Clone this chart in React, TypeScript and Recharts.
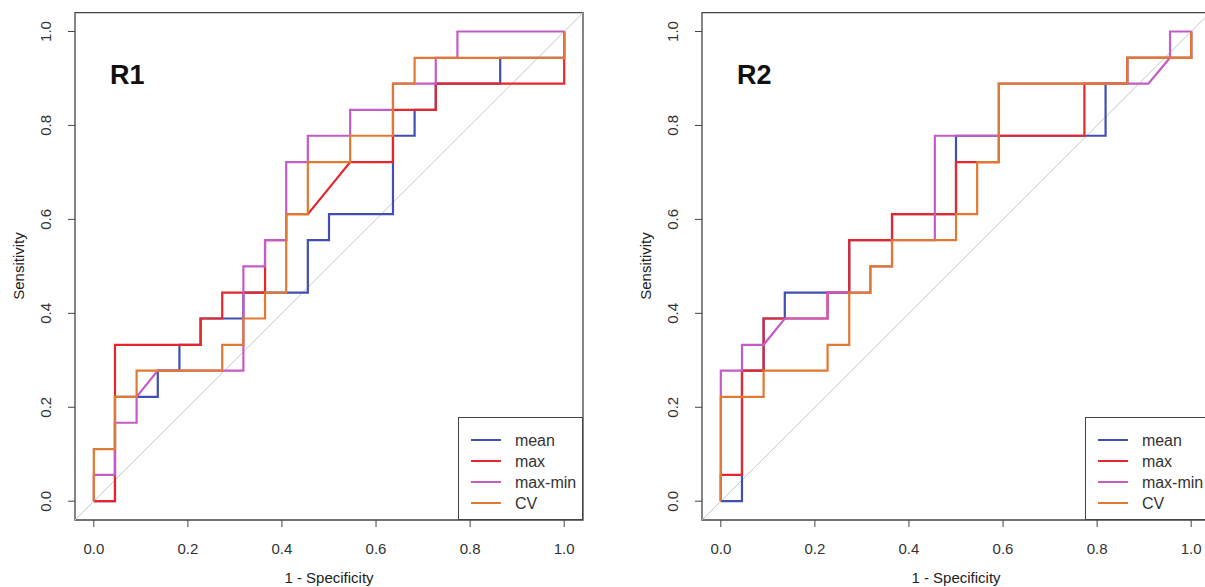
import React from 'react';
import {
  ScatterChart,
  Scatter,
  XAxis,
  YAxis,
  ReferenceLine,
  ReferenceArea,
} from 'recharts';

// axis ticks
const axisTicks = [0, 0.2, 0.4, 0.6, 0.8, 1.0];

// series names / colours
const seriesNames = ['mean', 'max', 'max-min', 'CV'];
const seriesColors = ['#3f50b0', '#e6262c', '#c45cc6', '#e07a32'];

// ---- R1 ----
const r1MeanX = [0, 0.045, 0.045, 0.136, 0.136, 0.182, 0.182, 0.227, 0.227, 0.318, 0.318, 0.455, 0.455, 0.5, 0.5, 0.636, 0.636, 0.682, 0.682, 0.727, 0.727, 0.864, 0.864, 1, 1];
const r1MeanY = [0, 0, 0.222, 0.222, 0.278, 0.278, 0.333, 0.333, 0.389, 0.389, 0.444, 0.444, 0.556, 0.556, 0.611, 0.611, 0.778, 0.778, 0.833, 0.833, 0.889, 0.889, 0.944, 0.944, 1];

const r1MaxX = [0, 0.045, 0.045, 0.227, 0.227, 0.273, 0.273, 0.364, 0.364, 0.409, 0.409, 0.455, 0.545, 0.636, 0.636, 0.727, 0.727, 1, 1];
const r1MaxY = [0, 0, 0.333, 0.333, 0.389, 0.389, 0.444, 0.444, 0.556, 0.556, 0.611, 0.611, 0.722, 0.722, 0.833, 0.833, 0.889, 0.889, 1];

const r1MaxMinX = [0, 0, 0.045, 0.045, 0.091, 0.091, 0.136, 0.318, 0.318, 0.364, 0.364, 0.409, 0.409, 0.455, 0.455, 0.545, 0.545, 0.636, 0.636, 0.727, 0.727, 0.773, 0.773, 1];
const r1MaxMinY = [0, 0.056, 0.056, 0.167, 0.167, 0.222, 0.278, 0.278, 0.5, 0.5, 0.556, 0.556, 0.722, 0.722, 0.778, 0.778, 0.833, 0.833, 0.889, 0.889, 0.944, 0.944, 1, 1];

const r1CvX = [0, 0, 0.045, 0.045, 0.091, 0.091, 0.273, 0.273, 0.318, 0.318, 0.364, 0.364, 0.409, 0.409, 0.455, 0.455, 0.545, 0.545, 0.636, 0.636, 0.682, 0.682, 1, 1];
const r1CvY = [0, 0.111, 0.111, 0.222, 0.222, 0.278, 0.278, 0.333, 0.333, 0.389, 0.389, 0.444, 0.444, 0.611, 0.611, 0.722, 0.722, 0.778, 0.778, 0.889, 0.889, 0.944, 0.944, 1];

// ---- R2 ----
const r2MeanX = [0, 0.045, 0.045, 0.091, 0.091, 0.136, 0.136, 0.273, 0.273, 0.364, 0.364, 0.5, 0.5, 0.818, 0.818, 0.864, 0.864, 1, 1];
const r2MeanY = [0, 0, 0.278, 0.278, 0.389, 0.389, 0.444, 0.444, 0.556, 0.556, 0.611, 0.611, 0.778, 0.778, 0.889, 0.889, 0.944, 0.944, 1];

const r2MaxX = [0, 0, 0.045, 0.045, 0.091, 0.091, 0.227, 0.227, 0.273, 0.273, 0.364, 0.364, 0.5, 0.5, 0.591, 0.591, 0.773, 0.773, 0.864, 0.864, 1, 1];
const r2MaxY = [0, 0.056, 0.056, 0.278, 0.278, 0.389, 0.389, 0.444, 0.444, 0.556, 0.556, 0.611, 0.611, 0.722, 0.722, 0.778, 0.778, 0.889, 0.889, 0.944, 0.944, 1];

const r2MaxMinX = [0, 0, 0.045, 0.045, 0.091, 0.136, 0.227, 0.227, 0.318, 0.318, 0.364, 0.364, 0.455, 0.455, 0.591, 0.591, 0.909, 0.955, 0.955, 1];
const r2MaxMinY = [0, 0.278, 0.278, 0.333, 0.333, 0.389, 0.389, 0.444, 0.444, 0.5, 0.5, 0.556, 0.556, 0.778, 0.778, 0.889, 0.889, 0.944, 1, 1];

const r2CvX = [0, 0, 0.091, 0.091, 0.227, 0.227, 0.273, 0.273, 0.318, 0.318, 0.364, 0.364, 0.5, 0.5, 0.545, 0.545, 0.591, 0.591, 0.864, 0.864, 1, 1];
const r2CvY = [0, 0.222, 0.222, 0.278, 0.278, 0.333, 0.333, 0.444, 0.444, 0.5, 0.5, 0.556, 0.556, 0.611, 0.611, 0.722, 0.722, 0.889, 0.889, 0.944, 0.944, 1];

const zip = (xs: number[], ys: number[]) => xs.map((x, i) => ({ x, y: ys[i] }));

const FONT = '"Liberation Sans", Arial, sans-serif';
const DOMAIN: [number, number] = [-0.04, 1.04];

interface PanelProps {
  title: string;
  series: Array<Array<{ x: number; y: number }>>;
  left: number;
}

function RocPanel({ title, series, left }: PanelProps) {
  return (
    <div style={{ position: 'absolute', left, top: 0 }}>
      <ScatterChart
        width={600}
        height={587}
        margin={{ top: 12.7, right: 17, bottom: 0, left: 0 }}
        style={{ fontFamily: FONT }}
      >
        <XAxis
          type="number"
          dataKey="x"
          domain={DOMAIN}
          ticks={axisTicks}
          allowDataOverflow
          height={67}
          axisLine={false}
          tickSize={7}
          tickLine={{ stroke: '#444' }}
          interval={0}
          tick={(p: any) => (
            <text x={p.x} y={554} textAnchor="middle" fontSize={15} fill="#333" fontFamily={FONT}>
              {Number(p.payload.value).toFixed(1)}
            </text>
          )}
          label={() => (
            <text x={329} y={583} textAnchor="middle" fontSize={15} fill="#222" fontFamily={FONT}>
              1 - Specificity
            </text>
          )}
        />
        <YAxis
          type="number"
          dataKey="y"
          domain={DOMAIN}
          ticks={axisTicks}
          allowDataOverflow
          width={75}
          axisLine={false}
          tickSize={7}
          tickLine={{ stroke: '#444' }}
          interval={0}
          tick={(p: any) => (
            <text
              x={51}
              y={p.y}
              transform={`rotate(-90 51 ${p.y})`}
              textAnchor="middle"
              fontSize={15}
              fill="#333"
              fontFamily={FONT}
            >
              {Number(p.payload.value).toFixed(1)}
            </text>
          )}
          label={() => (
            <text
              x={24}
              y={266}
              transform="rotate(-90 24 266)"
              textAnchor="middle"
              fontSize={15}
              fill="#222"
              fontFamily={FONT}
            >
              Sensitivity
            </text>
          )}
        />
        <ReferenceLine
          segment={[{ x: -0.04, y: -0.04 }, { x: 1.04, y: 1.04 }]}
          stroke="#c8c8c8"
          strokeWidth={1}
          ifOverflow="visible"
        />
        {series.map((pts, i) => (
          <Scatter
            key={seriesNames[i]}
            name={seriesNames[i]}
            data={pts}
            fill="none"
            line={{ stroke: seriesColors[i], strokeWidth: 2.2 }}
            lineType="joint"
            shape={() => <g />}
            isAnimationActive={false}
          />
        ))}
        <ReferenceArea
          x1={-0.04}
          x2={1.04}
          y1={-0.04}
          y2={1.04}
          fill="none"
          stroke="#444"
          strokeWidth={1.3}
          ifOverflow="visible"
        />
      </ScatterChart>
      <div
        style={{
          position: 'absolute',
          left: 110,
          top: 60,
          fontFamily: FONT,
          fontWeight: 'bold',
          fontSize: 27,
          color: '#111',
        }}
      >
        {title}
      </div>
      <div
        style={{
          position: 'absolute',
          left: 458.3,
          top: 416.7,
          width: 124.7,
          height: 103.3,
          boxSizing: 'border-box',
          border: '1.3px solid #444',
          background: '#fff',
          fontFamily: FONT,
          fontSize: 16,
          color: '#333',
        }}
      >
        {seriesNames.map((n, i) => (
          <div
            key={n}
            style={{ position: 'absolute', left: 0, top: 12 + i * 21, height: 21, display: 'flex', alignItems: 'center' }}
          >
            <div style={{ marginLeft: 12, width: 30, height: 2, background: seriesColors[i] }} />
            <span style={{ marginLeft: 13.6, lineHeight: '21px' }}>{n}</span>
          </div>
        ))}
      </div>
    </div>
  );
}

export default function App() {
  const r1 = [zip(r1MeanX, r1MeanY), zip(r1MaxX, r1MaxY), zip(r1MaxMinX, r1MaxMinY), zip(r1CvX, r1CvY)];
  const r2 = [zip(r2MeanX, r2MeanY), zip(r2MaxX, r2MaxY), zip(r2MaxMinX, r2MaxMinY), zip(r2CvX, r2CvY)];
  return (
    <div
      style={{
        position: 'absolute',
        left: 0,
        top: 0,
        width: 1205,
        height: 587,
        overflow: 'hidden',
        background: '#fff',
      }}
    >
      <RocPanel title="R1" series={r1} left={0} />
      <RocPanel title="R2" series={r2} left={627} />
    </div>
  );
}
